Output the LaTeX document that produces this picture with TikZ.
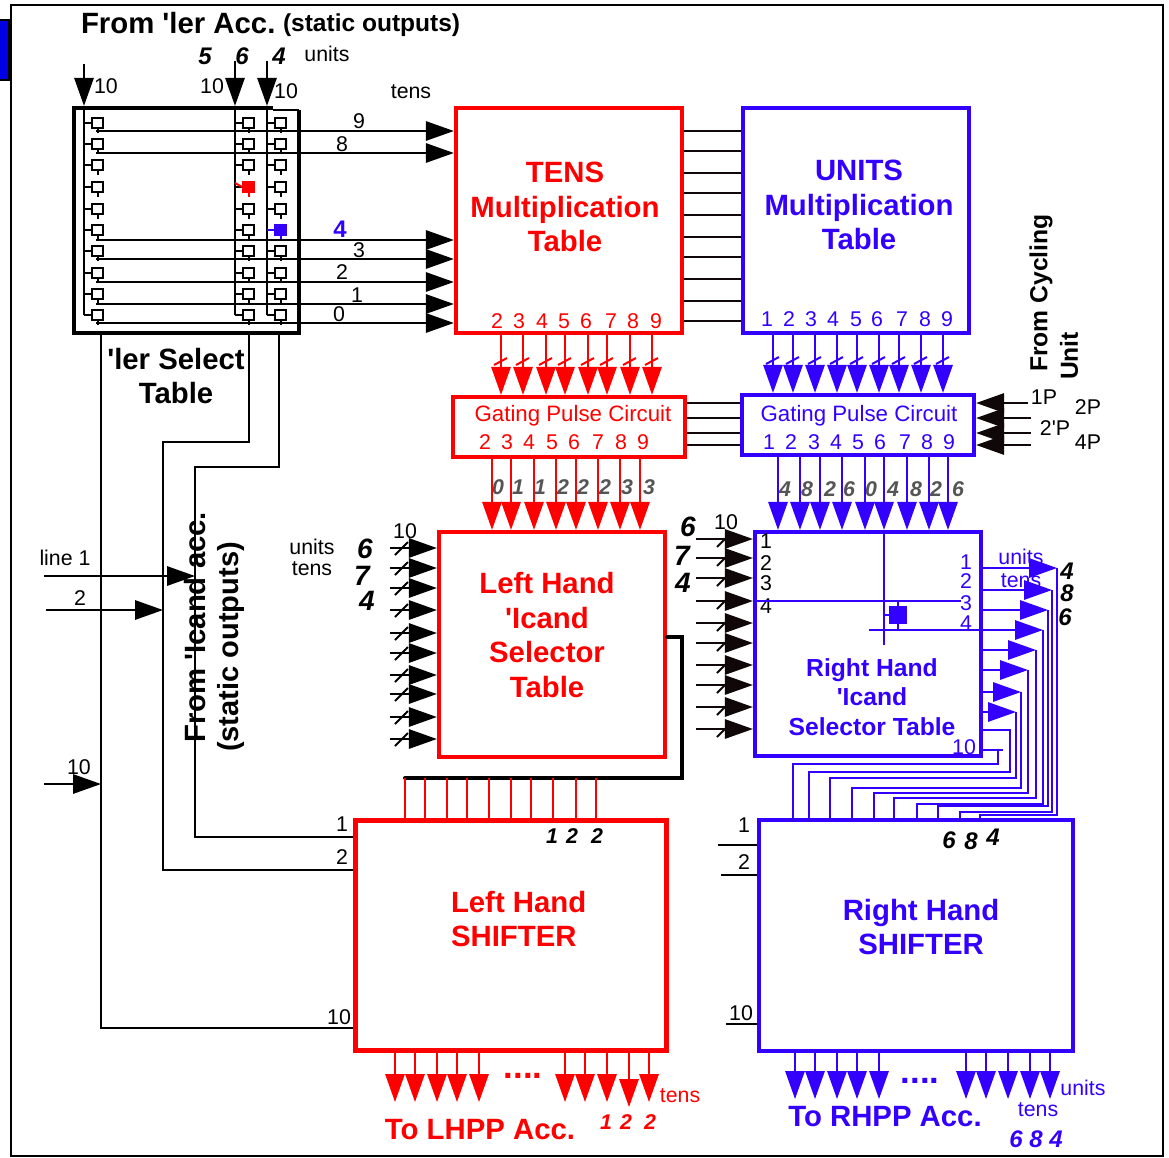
\documentclass[tikz,border=0pt]{standalone}
\usepackage{fontspec}
\setmainfont{Liberation Sans}[Ligatures=TeXOff]
\usetikzlibrary{arrows.meta}
\definecolor{tred}{HTML}{FF0000}
\definecolor{tblue}{HTML}{3300FF}
\definecolor{tdark}{HTML}{100808}
\definecolor{tgray}{HTML}{555555}
\begin{document}
\begin{tikzpicture}[
      x=0.75pt, y=-0.75pt,
      line width=1.5pt,
      blk/.style 2 args={draw, line width=3.2pt, minimum width=#1*0.75pt, minimum height=#2*0.75pt, inner sep=0pt},
      lab/.style={inner sep=0pt, font=\fontsize{16}{18}\selectfont},
      gatetxt/.style={inner sep=0pt, font=\fontsize{16.7}{18}\selectfont},
      head/.style={inner sep=0pt, align=center, font=\bfseries\fontsize{22}{26}\selectfont},
      sub/.style={inner sep=0pt, align=center, font=\bfseries\fontsize{18.5}{22}\selectfont},
      big/.style={inner sep=0pt, font=\bfseries\itshape\fontsize{21}{24}\selectfont},
      mid/.style={inner sep=0pt, font=\bfseries\itshape\fontsize{18}{20}\selectfont},
      small/.style={inner sep=0pt, font=\bfseries\itshape\fontsize{16}{18}\selectfont},
      sw/.style={draw, minimum size=8pt, inner sep=0pt},
      arr/.style={-{Triangle[length=21pt, width=14.5pt]}}
    ]
      \useasboundingbox (0,0) rectangle (1169,1157);
      \node[draw, fill=blue!90!black, minimum width=8pt, minimum height=45pt, inner sep=0pt] (tag) at (4,50) {};
      \node[draw, line width=1.6pt, fill=white, minimum width=1152*0.75pt, minimum height=1151*0.75pt] (frame) at (587,580.5) {};

      % boxes
      \node[minimum width=225*0.75pt, minimum height=225*0.75pt, inner sep=0pt, outer sep=1.6pt] (seltab) at (186.5,220.5) {};
      \node[blk={226}{225}, draw=tred]  (tens)   at (569,220.5) {};
      \node[blk={226}{225}, draw=tblue] (units)  at (856,220.5) {};
      \node[blk={232}{60},  draw=tred]  (gateR)  at (569,427)   {};
      \node[blk={232}{60},  draw=tblue] (gateB)  at (858,425)   {};
      \node[blk={226}{225}, draw=tred]  (leftS)  at (552,644.5) {};
      \node[blk={226}{224}, draw=tblue] (rightS) at (868,644)   {};
      \node[blk={311}{230}, draw=tred]  (leftH)  at (511,935.5) {};
      \node[blk={314}{231}, draw=tblue] (rightH) at (916,935.5) {};

      % select table outline, top right corner is thin
      \draw[line width=3.2pt] (273,108) -| (74,333) -| (299,110);
      \draw (273,110) -- (299,110);

      \node[head, text=tred]  (tenstxt)  at (565,207) {TENS\\Multiplication\\Table};
      \node[head, text=tblue] (unitstxt) at (859,205) {UNITS\\Multiplication\\Table};
      \node[head, text=tred]  (lstxt)    at (547,635) {Left Hand\\'Icand\\Selector\\Table};
      \node[head, text=tred, align=left, anchor=west] (lhtxt) at (450,919) {Left Hand\\SHIFTER};
      \node[head, text=tblue] (rhtxt)    at (921,927) {Right Hand\\SHIFTER};
      \node[sub, text=tblue]  (rstxt)    at (872,697) {Right Hand\\'Icand\\Selector Table};
      \node[head] (seltxt) at (176,376) {'ler Select\\Table};
      \node[head, anchor=west] (fromler) at (80,23) {From 'ler Acc.};
      \node[inner sep=0pt, font=\bfseries\fontsize{18.4}{20}\selectfont, anchor=west] (fromstat) at (282,25) {(static outputs)};
      \node[head, rotate=90] (fromlc) at (195,627) {From 'Icand acc.};
      \node[inner sep=0pt, rotate=90, font=\bfseries\fontsize{21.8}{24}\selectfont] (fromlc2) at (231,647) {(static outputs)};
      \node[sub, rotate=90] (fromcy) at (1041,293) {From Cycling};
      \node[sub, rotate=90] (fromun) at (1069,356) {Unit};

      % multiplier switches
      \foreach \c/\n/\t in {84/a/64, 235/b/61, 267/c/61} {
        \coordinate (in\n) at (\c,\t);
        \draw[arr] (in\n) -- (in\n |- seltab.north);
        \foreach \y [count=\r] in {123,144,165,187,209,230,251,273,294,315} {
          \node[sw] (\n\r) at (\c+13.5,\y) {};
          \draw (\c,\y) -- (\n\r.west);
          \draw (\n\r.south) -- ++(0,4);
        }
        \draw (\c,108) -- (\n10 -| \c,0);
      }
      \node[sw, draw=tred, fill=tred] (swred) at (b4) {};
      \draw[tred] (235,183) -- (swred.west);
      \draw[tred] (swred.south) -- ++(0,4);
      \node[sw, draw=tblue, fill=tblue] (swblue) at (c6) {};
      \draw[tblue] (swblue.west) -- (267,230);
      \draw[tblue] (swblue.south) -- ++(0,4);
      \foreach \y in {131,153,240,259,282,304,323} {
        \coordinate (o) at (96,\y);
        \draw[arr] (o) -- (o -| tens.west);
      }
      \node[lab] (n9) at (359,121) {9};
      \node[lab] (n8) at (342,144) {8};
      \node[lab, text=tblue, font=\bfseries\fontsize{18}{20}\selectfont] (n4) at (340,229) {4};
      \node[lab] (n3) at (359,250) {3};
      \node[lab] (n2) at (342,272) {2};
      \node[lab] (n1) at (357,295) {1};
      \node[lab] (n0) at (339,314) {0};
      \node[lab] (x10a) at (106,86) {10};
      \node[lab] (x10b) at (212,86) {10};
      \node[lab] (x10c) at (286,91) {10};
      \node[mid] (m5) at (205,56) {5};
      \node[mid] (m6) at (242,56) {6};
      \node[mid] (m4) at (279,56) {4};
      \node[lab] (lu) at (327,54) {units};
      \node[lab] (lt) at (411,92) {tens};

      % between the tables
      \foreach \y in {131,151,173,193,215,237,257,279,301,321} {
        \coordinate (o) at (700,\y);
        \draw[tdark] (o -| tens.east) -- (o -| units.west);
      }
      \foreach \y in {403,418,433,445} {
        \coordinate (o) at (700,\y);
        \draw[tdark] (o -| gateR.east) -- (o -| gateB.west);
      }
      \foreach \y/\e in {403/1028, 418/1031, 433/1031, 445/1031} {
        \coordinate (o) at (\e,\y);
        \draw[arr, tdark] (o) -- (o -| gateB.east);
      }
      \node[lab] (p1) at (1044,397) {1P};
      \node[lab] (p2) at (1088,407) {2P};
      \node[lab] (p3) at (1055,428) {2'P};
      \node[lab] (p4) at (1088,442) {4P};

      % digits in the tables
      \foreach \x [count=\i from 2] in {497,519,542,564,586,611,633,656}
        \node[lab, text=tred] (td\i) at (\x,321) {\i};
      \foreach \x [count=\i] in {767,789,811,833,856,877,902,925,947}
        \node[lab, text=tblue] (ud\i) at (\x,319) {\i};
      \foreach \x [count=\i from 2] in {485,507,529,552,574,598,621,643}
        \node[lab, text=tred] (gr\i) at (\x,442) {\i};
      \foreach \x [count=\i] in {769,791,814,836,858,880,905,927,949}
        \node[lab, text=tblue] (gb\i) at (\x,442) {\i};
      \node[gatetxt, text=tred]  (gtr) at (573,416) {Gating Pulse Circuit};
      \node[gatetxt, text=tblue] (gtb) at (859,416) {Gating Pulse Circuit};

      % tables to gating circuits
      \foreach \x in {501,523,546,565,588,607,630,652} {
        \coordinate (t) at (\x,0);
        \draw[arr, tred] (t |- tens.south) -- (t |- gateR.north);
        \draw[tred] (\x-7,365) -- ++(13,-7);
      }
      \foreach \x in {773,793,815,837,857,879,899,921,943} {
        \coordinate (t) at (\x,0);
        \draw[arr, tblue] (t |- units.south) -- (t |- gateB.north);
        \draw[tblue] (\x-7,364) -- ++(13,-7);
      }
      \foreach \x in {492,511,534,556,576,598,620,640} {
        \coordinate (t) at (\x,0);
        \draw[arr, tred] (t |- gateR.south) -- (t |- leftS.north);
      }
      \foreach \x in {778,800,820,842,865,884,907,929,948} {
        \coordinate (t) at (\x,0);
        \draw[arr, tblue] (t |- gateB.south) -- (t |- rightS.north);
      }
      \foreach \x/\d in {498/0,518/1,540/1,563/2,583/2,605/2,627/3,649/3}
        \node[small, text=tgray] (gl\x) at (\x,487) {\d};
      \foreach \x/\d in {785/4,807/8,830/2,849/6,871/0,893/4,916/8,936/2,958/6}
        \node[small, text=tgray] (gm\x) at (\x,489) {\d};

      % left hand selector inputs
      \foreach \y in {548,568,588,610,633,653,675,694,717,739} {
        \coordinate (o) at (390,\y);
        \draw[arr] (o) -- (o -| leftS.west);
        \draw (395,\y+7) -- ++(13,-13);
      }
      \node[lab] (l10) at (405,531) {10};
      \node[lab] (lun) at (312,547) {units};
      \node[lab] (lte) at (312,569) {tens};
      \node[big] (l6) at (365,549) {6};
      \node[big] (l7) at (362,576) {7};
      \node[big] (l4) at (367,601) {4};

      % right hand selector inputs
      \foreach \y in {539,558,578,601,623,643,665,685,707,729} {
        \coordinate (o) at (696,\y);
        \draw[arr, tdark] (o) -- (o -| rightS.west);
        \draw[tdark] (717,\y+8) -- ++(13,-13);
      }
      \node[lab] (r10) at (726,522) {10};
      \node[big] (r6) at (688,527) {6};
      \node[big] (r7) at (682,556) {7};
      \node[big] (r4) at (683,583) {4};
      \foreach \y [count=\i] in {541,563,583,606}
        \node[lab] (rl\i) at (766,\y) {\i};
      \foreach \y [count=\i] in {562,581,603,623}
        \node[lab, text=tblue] (rr\i) at (966,\y) {\i};
      \node[lab, text=tblue] (rr10) at (964,747) {10};

      % crossing inside the selector
      \draw[tblue] (rightS.north -| 884,0) -- (884,645);
      \draw[tblue] (rightS.west |- 0,601) -- (961,601);
      \node[draw=tblue, fill=tblue, minimum size=12pt, inner sep=0pt] (rsw) at (898,615) {};
      \draw[tblue] (884,615) -- (rsw.west);
      \draw[tblue] (rsw.north) -- (898,601);
      \draw[tblue] (rsw.south) -- (898,630);
      \draw[tblue] (869,630) -- (981,630);

      % right selector outputs run down to the shifter
      \foreach \y/\v/\h/\d in {568/1057/815/980, 590/1052/812/960, 610/1048/806/938, 630/1043/804/917,
                               650/1036/798/894, 670/1028/793/874, 692/1021/788/852, 712/1016/778/830} {
        \coordinate (o) at (\v,\y);
        \draw[tblue] (o) -- (\v,\h) -| (\d,0 |- rightH.north);
        \draw[arr, tblue] (o -| rightS.east) -- (o);
      }
      \draw[tblue] (rightS.east |- 0,730) -- (1010,730) |- (809,772) -- (809 ,0 |- rightH.north);
      \draw[tblue] (rightS.east |- 0,750) -- (1003,750);
      \draw[tblue] (998,750) |- (793,764) -- (793,0 |- rightH.north);
      \node[lab, text=tblue] (ru) at (1021,557) {units};
      \node[lab, text=tblue] (rt) at (1021,581) {tens};
      \node[mid] (a4) at (1067,571) {4};
      \node[mid] (a8) at (1067,593) {8};
      \node[mid] (a6) at (1065,617) {6};

      % left selector outputs
      \coordinate (bus) at (405,778);
      \draw[line width=3pt, line cap=round] (leftS.east |- 0,637) -| (682,778) -- (bus);
      \foreach \x in {405,425,447,467,489,511,531,553,576,596} {
        \coordinate (t) at (\x,0);
        \draw[tred] (t |- bus) -- (t |- leftH.north);
      }
      \node[small] (s1) at (552,836) {1};
      \node[small] (s2) at (572,836) {2};
      \node[small] (s3) at (597,836) {2};
      \node[mid] (h6) at (949,840) {6};
      \node[mid] (h8) at (971,841) {8};
      \node[mid] (h4) at (993,837) {4};

      % shift lines
      \draw (seltab.south -| 101,0) |- (leftH.west |- 0,1028);
      \draw (seltab.south -| 249,0) |- (163,442) |- (leftH.west |- 0,870);
      \draw (seltab.south -| 279,0) |- (195,467) |- (leftH.west |- 0,837);
      \coordinate (line1) at (44,576);
      \coordinate (line2) at (46,610);
      \coordinate (line10) at (44,784);
      \draw[arr] (line1) -- (195,576);
      \draw[arr] (line2) -- (163,610);
      \draw[arr] (line10) -- (101,784);
      \node[lab] (tl1) at (65,558) {line 1};
      \node[lab] (tl2) at (80,598) {2};
      \node[lab] (tl10) at (79,767) {10};
      \node[lab] (sl1) at (342,824) {1};
      \node[lab] (sl2) at (342,857) {2};
      \node[lab] (sl10) at (339,1017) {10};
      \coordinate (rs1) at (718,845);
      \coordinate (rs2) at (721,875);
      \coordinate (rs10) at (726,1024);
      \draw (rs1) -- (rs1 -| rightH.west);
      \draw (rs2) -- (rs2 -| rightH.west);
      \draw (rs10) -- (rs10 -| rightH.west);
      \node[lab] (rsl1) at (744,825) {1};
      \node[lab] (rsl2) at (744,862) {2};
      \node[lab] (rsl10) at (741,1013) {10};

      % outputs to the accumulators
      \foreach \x/\e in {395/1102,415/1102,437/1102,457/1102,479/1102,565/1102,585/1102,607/1102,629/1107,649/1102} {
        \coordinate (t) at (\x,\e);
        \draw[arr, tred] (t |- leftH.south) -- (t);
      }
      \foreach \x in {795,815,837,857,879,966,986,1008,1030,1050} {
        \coordinate (t) at (\x,1099);
        \draw[arr, tblue] (t |- rightH.south) -- (t);
      }
      \node[inner sep=0pt, text=tred, font=\bfseries\fontsize{26}{26}\selectfont]  (dotsr) at (523,1076) {....};
      \node[inner sep=0pt, text=tblue, font=\bfseries\fontsize{26}{26}\selectfont] (dotsb) at (920,1081) {....};
      \node[head, text=tred]  (tolh) at (480,1130) {To LHPP Acc.};
      \node[head, text=tblue] (torh) at (885,1117) {To RHPP Acc.};
      \node[lab, text=tred]   (lht)  at (680,1096) {tens};
      \node[lab, text=tblue]  (rhu)  at (1083,1088) {units};
      \node[lab, text=tblue]  (rht)  at (1038,1110) {tens};
      \node[small, text=tred] (b1) at (606,1122) {1};
      \node[small, text=tred] (b2) at (626,1122) {2};
      \node[small, text=tred] (b3) at (650,1122) {2};
      \node[mid, text=tblue]  (c1) at (1016,1139) {6};
      \node[mid, text=tblue]  (c2) at (1036,1139) {8};
      \node[mid, text=tblue]  (c3) at (1056,1139) {4};
    \end{tikzpicture}
\end{document}
